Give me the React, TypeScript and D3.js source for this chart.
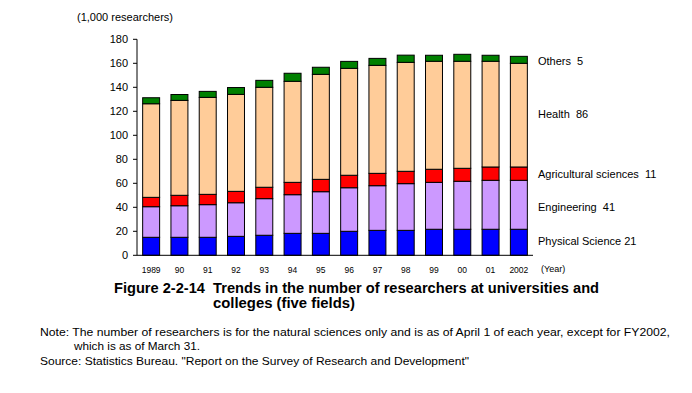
import React from "react";
import * as d3 from "d3";

const years = ["1989", "90", "91", "92", "93", "94", "95", "96", "97", "98", "99", "00", "01", "2002"];
const physical = [15, 15, 15, 15.8, 16.7, 18.3, 18.3, 20, 20.8, 20.8, 21.7, 21.7, 21.7, 21.7];
const engineering = [25.5, 26.3, 27.2, 28, 30.5, 32.2, 34.7, 36.3, 37.2, 38.9, 39.1, 40, 40.8, 40.8];
const agricultural = [7.8, 8.7, 8.6, 9.5, 9.5, 10.3, 10.3, 10.4, 10.3, 10.3, 10.9, 10.8, 11.1, 11.1];
const health = [78, 79.1, 80.8, 80.8, 83.3, 84.2, 87.5, 89.1, 90, 90.8, 90, 89.2, 88.1, 86.4];
const others = [5, 4.9, 5, 5.7, 5.8, 6.7, 5.9, 5.8, 5.8, 6, 5, 5.8, 5, 5.8];
const seriesNames = ["Physical Science 21", "Engineering  41", "Agricultural sciences  11", "Health  86", "Others  5"];
const yTicks = [0, 20, 40, 60, 80, 100, 120, 140, 160, 180];
const colors = ["#0000FF", "#CC99FF", "#FF0000", "#FFCC99", "#008000"];

export default function App() {
  const W = 692, H = 393;
  const left = 137, right = 533, top = 39.3, bottom = 255.3;
  const x = d3.scaleBand().domain(years).range([left, right]).paddingInner(0.4).paddingOuter(0.2);
  const y = d3.scaleLinear().domain([0, 180]).range([bottom, top]);
  const keys = ["p", "e", "a", "h", "o"];
  const rows = years.map((yr, i) => ({ yr, p: physical[i], e: engineering[i], a: agricultural[i], h: health[i], o: others[i] }));
  const stacked = d3.stack<any>().keys(keys)(rows);
  const font = "'Liberation Sans', Arial, sans-serif";
  const legendY = [241, 207, 174, 114, 61];
  const pre = { whiteSpace: "pre" as const };
  return (
    <svg width={W} height={H} style={{ position: "absolute", left: 0, top: 0, background: "#fff" }} fontFamily={font}>
      <rect x={0} y={0} width={W} height={H} fill="#fff" />
      <text x={77} y={21} fontSize={11}>(1,000 researchers)</text>
      {stacked.map((s, si) => (
        <g key={si}>
          {s.map((d: any, i: number) => (
            <rect key={i} x={x(years[i])!} width={x.bandwidth()} y={y(d[1])} height={y(d[0]) - y(d[1])}
              fill={colors[si]} stroke="#000" strokeWidth={1} />
          ))}
        </g>
      ))}
      <line x1={left} x2={left} y1={top} y2={bottom} stroke="#000" />
      <line x1={left} x2={right} y1={bottom} y2={bottom} stroke="#000" />
      {yTicks.map((t) => (
        <g key={t}>
          <line x1={left - 4} x2={left} y1={y(t)} y2={y(t)} stroke="#000" />
          <text x={left - 9} y={y(t)} dy="0.35em" textAnchor="end" fontSize={11}>{t}</text>
        </g>
      ))}
      {years.map((yr) => (
        <text key={yr} x={x(yr)! + x.bandwidth() / 2} y={273} textAnchor="middle" fontSize={8.5}>{yr}</text>
      ))}
      <text x={541} y={272} fontSize={9}>(Year)</text>
      {seriesNames.map((n, i) => (
        <text key={n} x={538} y={legendY[i]} dy="0.35em" fontSize={11} style={pre}>{n}</text>
      ))}
      <text x={114} y={293} fontSize={14} fontWeight="bold" style={pre} textLength={485} lengthAdjust="spacingAndGlyphs">Figure 2-2-14  Trends in the number of researchers at universities and</text>
      <text x={213} y={308} fontSize={14} fontWeight="bold" style={pre} textLength={142} lengthAdjust="spacingAndGlyphs">colleges (five fields)</text>
      <text x={40} y={336} fontSize={11} textLength={630} lengthAdjust="spacingAndGlyphs">Note: The number of researchers is for the natural sciences only and is as of April 1 of each year, except for FY2002,</text>
      <text x={74} y={350} fontSize={11} textLength={126} lengthAdjust="spacingAndGlyphs">which is as of March 31.</text>
      <text x={40} y={365} fontSize={11} textLength={429} lengthAdjust="spacingAndGlyphs">Source: Statistics Bureau. "Report on the Survey of Research and Development"</text>
    </svg>
  );
}
